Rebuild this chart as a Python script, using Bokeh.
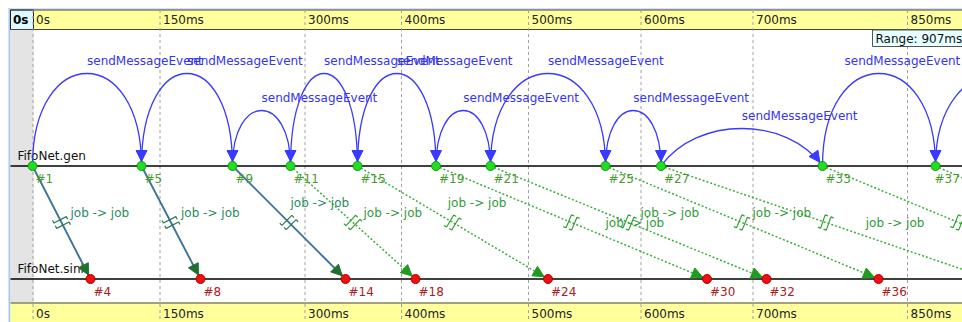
import numpy as np
from bokeh.plotting import figure
from bokeh.models import Range1d, ColumnDataSource, Arrow, NormalHead
from bokeh.core.properties import value
from bokeh.embed import file_html
from bokeh.resources import INLINE

# ---------------- data (timeline positions) ----------------
TICK_POS = [32.5, 159.5, 304.5, 401, 528, 640.5, 752.5, 907]
TICK_LABELS = ["0s", "150ms", "300ms", "400ms", "500ms", "600ms", "700ms", "850ms"]
RANGE_LABEL = "Range: 907ms"
START_LABEL = "0s"

MODULES = ["FifoNet.gen", "FifoNet.sink"]

GEN_NAMES = ["#1", "#5", "#9", "#11", "#15", "#19", "#21", "#25", "#27", "#33", "#37", ""]
GEN_POS = [32, 141, 232, 290, 357, 435.5, 490, 605, 660.5, 822, 935, 1063]

SINK_NAMES = ["#4", "#8", "#14", "#18", "#24", "#30", "#32", "#36", "", "", ""]
SINK_POS = [90, 200, 345, 415, 547.5, 706.5, 766, 878, 990, 1094, 1190]

MSG_KIND = ["send", "send", "send", "reuse", "reuse", "reuse", "reuse",
            "reuse", "reuse", "reuse", "reuse"]
MSG_LABEL = "job -> job"
SELF_MSG_LABEL = "sendMessageEvent"

# ---------------- layout ----------------
W, H = 962, 322
GEN_Y, SINK_Y = 165.5, 278.5
ARC_HEIGHT = [92.5, 92.5, 55.5, 92.5, 92.5, 55.5, 92.5, 55.5, 37.5, 92.5, 92.5]
JOB_LABEL_OFFSET = [(9, -10), (10, -10), (1.5, -20), (10.5, -10), (-5, -20), (34, 0),
                    (12, -10), (10.5, -10), (40, 0), (10, -10), (10, -10)]
FONT = value("DejaVu Sans")
FS = "12px"
BLUE = "#3a3aff"
GREEN = "#3cad3c"
YELLOW = "#ffff9c"
TEXT_W_SELF = 116   # approx rendered width of the self-message label
TEXT_W_EVT = 27     # approx rendered width of a 3-char event label

p = figure(width=W, height=H, x_range=Range1d(0, W), y_range=Range1d(H, 0),
           output_backend="svg", toolbar_location=None, min_border=0,
           x_axis_location=None, y_axis_location=None,
           background_fill_color="white", border_fill_color="white",
           outline_line_color=None)
p.xgrid.visible = False
p.ygrid.visible = False

# backgrounds
p.quad(left=[8, 8], right=[10, 975], top=[8, 8], bottom=[330, 9], fill_color="#a9c6ee", line_color=None)
p.quad(left=[10], right=[975], top=[9.5], bottom=[29], fill_color=YELLOW, line_color=None)
p.quad(left=[10], right=[33], top=[29], bottom=[302], fill_color="#e4e4e4", line_color=None)
p.quad(left=[10], right=[975], top=[302], bottom=[330], fill_color=YELLOW, line_color=None)
p.quad(left=[10], right=[33], top=[9.5], bottom=[29], fill_color="#dcfaff", line_color="#222222", line_width=1)
p.segment(x0=[10, 10, 10], y0=[9.5, 29, 302.5], x1=[975, 975, 975], y1=[9.5, 29, 302.5],
          line_color="#444444", line_width=1)

# grid lines at ticks
p.segment(x0=TICK_POS, y0=[9.5] * len(TICK_POS), x1=TICK_POS, y1=[330] * len(TICK_POS),
          line_color="#a0a0a0", line_width=1, line_dash="3 3")

# module axes
p.segment(x0=[10, 10], y0=[GEN_Y, SINK_Y], x1=[975, 975], y1=[GEN_Y, SINK_Y],
          line_color="black", line_width=1.6)

# tick labels top and bottom
tx = [t + 3 for t in TICK_POS]
p.text(x=tx, y=[19.5] * len(tx), text=TICK_LABELS, text_font=FONT, text_font_size=FS,
       text_baseline="middle", text_align="left", text_color="#222222")
p.text(x=tx, y=[313] * len(tx), text=TICK_LABELS, text_font=FONT, text_font_size=FS,
       text_baseline="middle", text_align="left", text_color="#222222")
p.text(x=[12.5], y=[19.5], text=[START_LABEL], text_font=FONT, text_font_size=FS,
       text_font_style="bold", text_baseline="middle", text_align="left", text_color="black")

# module labels
p.text(x=[17, 17], y=[GEN_Y - 10.5, SINK_Y - 10.5], text=MODULES, text_font=FONT,
       text_font_size=FS, text_baseline="middle", text_align="left", text_color="#111111")

# ---------------- self-message arcs on gen ----------------
gx = np.array(GEN_POS, dtype=float)
x1a, x2a = gx[:-1], gx[1:]
h = np.array(ARC_HEIGHT)
c = 4.0 * h / 3.0
w = x2a - x1a
lean = np.maximum(0.0, w / 2 - 1.2 * h)
p.bezier(x0=x1a, y0=[GEN_Y] * len(x1a), x1=x2a, y1=[GEN_Y] * len(x2a),
         cx0=x1a + lean, cy0=GEN_Y - c, cx1=x2a - lean, cy1=GEN_Y - c,
         line_color=BLUE, line_width=1.3)
vx, vy = lean, c
vn = np.hypot(vx, vy)
ux, uy = vx / vn, vy / vn
ahx_e = x2a - ux * 4.5
ahy_e = GEN_Y - uy * 4.5
arc_head = ColumnDataSource(dict(xs=ahx_e - ux * 12, ys=ahy_e - uy * 12, xe=ahx_e, ye=ahy_e))
p.add_layout(Arrow(x_start="xs", y_start="ys", x_end="xe", y_end="ye", source=arc_head,
                   line_alpha=0,
                   end=NormalHead(size=11, fill_color=BLUE, line_color=BLUE, line_width=1)))
apex_x = (x1a + x2a) / 2
apex_y = GEN_Y - h
# keep labels inside the view: shift a label left if it would run past the edge
lab_x = np.minimum(apex_x, W - 2 - TEXT_W_SELF)
on = apex_x < W
p.text(x=lab_x[on], y=(apex_y - 13)[on], text=[SELF_MSG_LABEL] * int(on.sum()), text_font=FONT,
       text_font_size=FS, text_baseline="middle", text_align="left", text_color="#3535f0")

# ---------------- messages gen -> sink ----------------
n_msg = len(SINK_POS)
sx0 = gx[:n_msg]
sx1 = np.array(SINK_POS, dtype=float)
kind = np.array(MSG_KIND)
dx, dy = sx1 - sx0, np.full(n_msg, SINK_Y - GEN_Y)
L = np.hypot(dx, dy)
mux, muy = dx / L, dy / L

send = kind == "send"
reuse = ~send
p.segment(x0=sx0[send], y0=[GEN_Y] * send.sum(), x1=sx1[send], y1=[SINK_Y] * send.sum(),
          line_color="#3a9a55", line_width=1.9)
p.segment(x0=sx0[send], y0=[GEN_Y] * send.sum(), x1=sx1[send], y1=[SINK_Y] * send.sum(),
          line_color="#4a62d0", line_width=1.1)
p.segment(x0=sx0[reuse], y0=[GEN_Y] * reuse.sum(), x1=sx1[reuse], y1=[SINK_Y] * reuse.sum(),
          line_color=GREEN, line_width=1.5, line_dash="2 2")

# break marks (two small "Z" strokes) at the middle of each message
mx, my = (sx0 + sx1) / 2, (GEN_Y + SINK_Y) / 2
nx, ny = -muy, mux
bxs, bys, bcol = [], [], []
for i in range(n_msg):
    col = "#2a7a55" if kind[i] == "send" else "#2f9f2f"
    for s in (-3.0, 3.0):
        cxp, cyp = mx[i] + mux[i] * s, my + muy[i] * s
        pts = [(-7, 3), (-7, 0), (7, 0), (7, -3)]   # (along normal, along line)
        bxs.append([cxp + nx[i] * a + mux[i] * b for a, b in pts])
        bys.append([cyp + ny[i] * a + muy[i] * b for a, b in pts])
        bcol.append(col)
p.multi_line(xs=bxs, ys=bys, line_color=bcol, line_width=1.2)

# arrow heads at sink events
vis = np.array([n != "" for n in SINK_NAMES])
for k in ("send", "reuse"):
    sel = vis & (kind == k)
    ex = sx1[sel] - mux[sel] * 4.5
    ey = SINK_Y - muy[sel] * 4.5
    src = ColumnDataSource(dict(xs=ex - mux[sel] * 14, ys=ey - muy[sel] * 14, xe=ex, ye=ey))
    colh = "#1f6f2f" if k == "send" else "#229922"
    p.add_layout(Arrow(x_start="xs", y_start="ys", x_end="xe", y_end="ye", source=src,
                       line_alpha=0,
                       end=NormalHead(size=11, fill_color=colh, line_color=colh, line_width=1)))

# job labels (only those that start inside the view)
lx = mx + np.array([o[0] for o in JOB_LABEL_OFFSET])
ly = my + np.array([o[1] for o in JOB_LABEL_OFFSET])
jon = lx < W - 62
jcol = ["#2a8a60" if k == "send" else "#2f9a3a" for k in kind[jon]]
p.text(x=lx[jon], y=ly[jon], text=[MSG_LABEL] * int(jon.sum()), text_font=FONT, text_font_size=FS,
       text_baseline="middle", text_align="left", text_color=jcol)

# ---------------- events ----------------
p.scatter(x=gx, y=[GEN_Y] * len(gx), size=9, fill_color="#22dd22", line_color="#119911",
          line_width=1, level="overlay")
p.scatter(x=sx1, y=[SINK_Y] * len(sx1), size=9, fill_color="#ee1111", line_color="#aa0000",
          line_width=1, level="overlay")
gvis = [i for i, n in enumerate(GEN_NAMES) if n]
gl_x = np.minimum(gx[gvis] + 3, W - 1 - TEXT_W_EVT)
p.text(x=gl_x, y=[GEN_Y + 13] * len(gvis), text=[GEN_NAMES[i] for i in gvis],
       text_font=FONT, text_font_size=FS,
       text_baseline="middle", text_align="left", text_color="#4a9a30")
svis = [i for i, n in enumerate(SINK_NAMES) if n]
p.text(x=sx1[svis] + 3, y=[SINK_Y + 12.5] * len(svis), text=[SINK_NAMES[i] for i in svis],
       text_font=FONT, text_font_size=FS, text_baseline="middle", text_align="left",
       text_color="#aa2020")

# range box
p.quad(left=[872], right=[975], top=[29.5], bottom=[46], fill_color="#e6ffff",
       line_color="#555555", line_width=1)
p.text(x=[875], y=[38], text=[RANGE_LABEL], text_font=FONT, text_font_size=FS,
       text_baseline="middle", text_align="left", text_color="#111111")

open("out.html", "w").write(file_html(p, INLINE))
